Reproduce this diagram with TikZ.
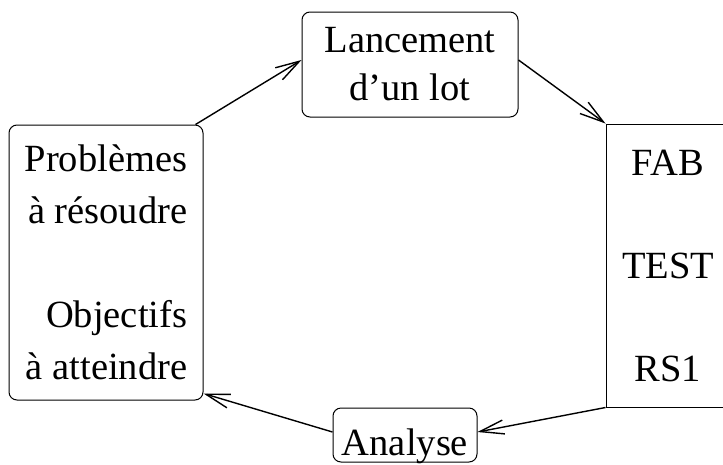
\documentclass[tikz,border=0pt]{standalone}
\usepackage{fontspec}
\setmainfont{Liberation Serif}
\usetikzlibrary{arrows.meta,calc}
\begin{document}
\begin{tikzpicture}[x=1pt,y=-1pt,
  txt/.style={font=\fontsize{38.5}{52}\selectfont, inner sep=0pt},
  roundbox/.style={txt, draw, line width=1pt, rounded corners=8pt},
  squarebox/.style={txt, draw, line width=1pt},
  flow/.style={line width=1.4pt, -{Straight Barb[length=24pt,width=14pt,line width=1.4pt]}}]
  \useasboundingbox (0,0) rectangle (723,464);

  % left box: problems and objectives
  \node[roundbox, align=right, minimum width=194pt, minimum height=275pt]
    (lb) at (106,262.5)
    {Problèmes\\à résoudre\\[52pt]Objectifs\\à atteindre};

  % top box: launching a batch
  \node[roundbox, align=center, minimum width=216pt, minimum height=105pt,
        font=\fontsize{38.5}{48}\selectfont]
    (tb) at (410,64.5)
    {Lancement\\d’un lot};

  % right box: production steps (runs off the right edge)
  \node[squarebox, align=center, minimum width=124pt, minimum height=283pt,
        font=\fontsize{38.5}{51.5}\selectfont]
    (rb) at (668,265.5)
    {FAB\\[51.5pt]TEST\\[51.5pt]RS1};

  % bottom box: analysis
  \node[roundbox, minimum width=144pt, text height=47pt, text depth=7pt]
    (an) at (405,435)
    {Analyse};

  % cycle
  \draw[flow] ($(lb.north east)+(-8,0)$) -- ($(tb.west)+(0,-4.5)$);
  \draw[flow] ($(tb.east)+(0,-4.5)$) -- (rb.north west);
  \draw[flow] (rb.south west) -- ($(an.east)+(0,-3)$);
  \draw[flow] ($(an.west)+(0,-3)$) -- ($(lb.south east)+(0,-7)$);
\end{tikzpicture}
\end{document}
